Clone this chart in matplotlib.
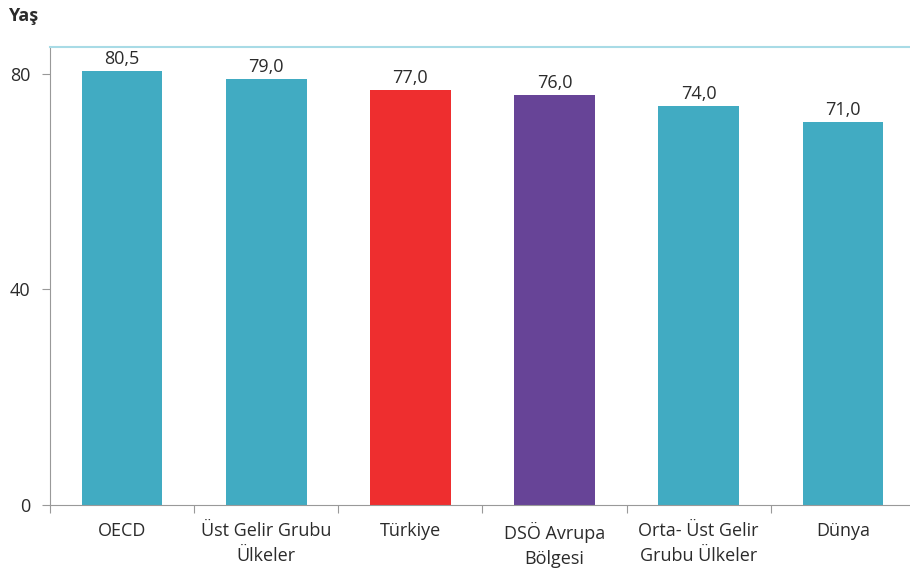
import matplotlib.pyplot as plt

categories = ["OECD", "Üst Gelir Grubu\nÜlkeler", "Türkiye", "DSÖ Avrupa\nBölgesi",
              "Orta- Üst Gelir\nGrubu Ülkeler", "Dünya"]
values = [80.5, 79.0, 77.0, 76.0, 74.0, 71.0]
colors = ["#41abc2", "#41abc2", "#ee2e2f", "#674497", "#41abc2", "#41abc2"]

plt.rcParams['font.family'] = ['Open Sans', 'DejaVu Sans']

fig = plt.figure(figsize=(9.1, 5.76), dpi=100)
ax = fig.add_axes([50/910, 1-505/576, 865/910, 458/576])

x = range(len(categories))
bars = ax.bar(x, values, width=0.56, color=colors)
for xi, v in zip(x, values):
    ax.text(xi, v + 0.6, f"{v:.1f}".replace(".", ","), ha="center", va="bottom",
            fontsize=13, color="#2b2b2b")

ax.set_xlim(-0.5, len(categories) - 0.5)
ax.set_ylim(0, 85)
ax.set_yticks([0, 40, 80])
ax.set_yticklabels(["0", "40", "80"], fontsize=13, color="#2b2b2b")
ax.set_xticks([i + 0.5 for i in range(-1, len(categories))], minor=False)
ax.set_xticklabels([])
ax.set_xticks(list(x), minor=True)
ax.set_xticklabels(categories, minor=True, fontsize=13, color="#2b2b2b", linespacing=1.55)
ax.tick_params(axis="x", which="major", length=6, color="#999999", direction="out")
ax.tick_params(axis="x", which="minor", length=0, pad=12)
ax.tick_params(axis="y", length=6, color="#999999", pad=8)

for s in ["left", "bottom"]:
    ax.spines[s].set_color("#999999")
ax.spines["right"].set_visible(False)
ax.spines["top"].set_color("#a8dbe6")
ax.spines["top"].set_linewidth(1.5)

fig.text(8/910, 1-16/576, "Yaş", fontsize=13, fontweight="bold", color="#2b2b2b", va="center")

fig.savefig("out.png", dpi=100)
